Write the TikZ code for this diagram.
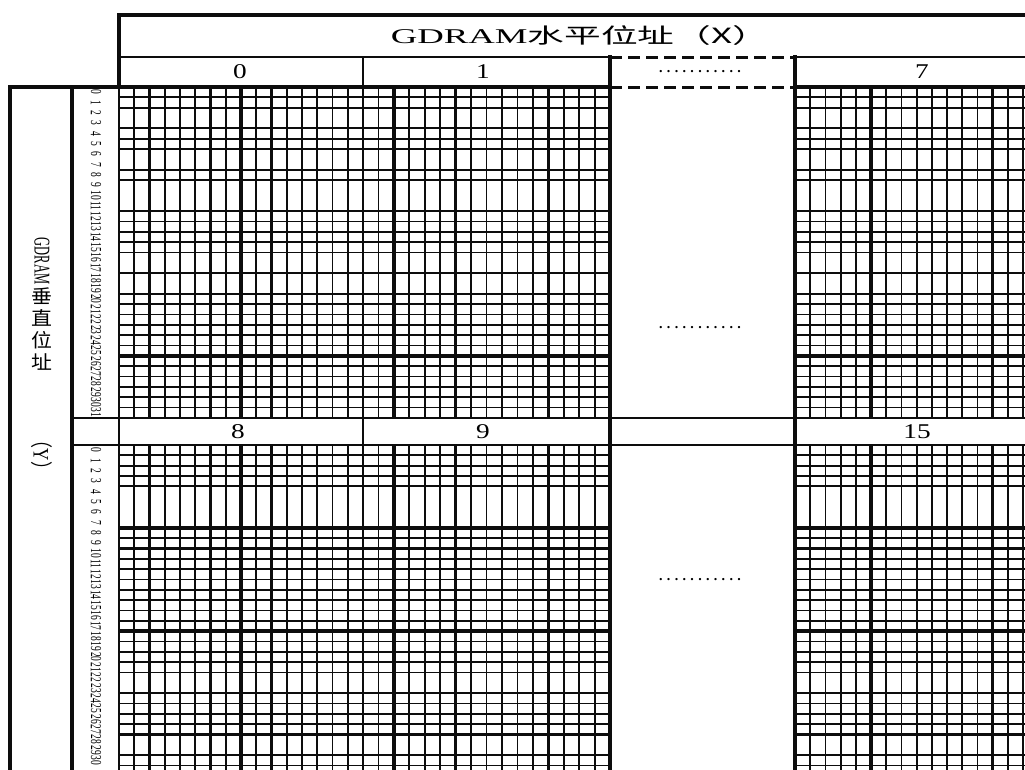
\documentclass[tikz,border=0pt]{standalone}
\usepackage{xcolor}
\usepackage{fontspec}
\setmainfont{Liberation Serif}
\newfontfamily\cjkfont{Noto Sans CJK SC}
\usepackage{tikz}
\usetikzlibrary{positioning}
\definecolor{gridink}{rgb}{0.05, 0.05, 0.05}

\begin{document}
\begin{tikzpicture}[x=1pt,y=-1pt]
\tikzset{gridline/.style={draw=gridink, line width=1.8pt},
boldline/.style={draw=gridink, line width=3.6pt},
ruleline/.style={draw=gridink, line width=2.2pt},
gapline/.style={draw=gridink, line width=3pt, dash pattern=on 12pt off 6pt},
colhead/.style={inner sep=0pt, xscale=1.3, font=\fontsize{21}{21}\selectfont},
rowlabel/.style={inner sep=0pt, xscale=1.6, rotate=-90, font=\fontsize{9.5}{9.5}\selectfont},
gapdots/.style={inner sep=0pt, font=\bfseries\fontsize{14}{14}\selectfont}}
\useasboundingbox[fill=white] (0,0) rectangle (1025,769);
\def\rowh{10.34}

\foreach \bx/\bw in {119/15.25, 363/15.44, 795/15.2} {
\foreach \r in {1,2,4,5,6,8,9,12,13,14,15,16,18,20,21,22,23,24,25,26,27,28,29,30,31}
\draw[gridline] (\bx,87+\r*\rowh) -- ++(16*\bw,0);
\foreach \r in {1,2,3,4,8,9,10,11,12,13,14,15,16,17,18,19,20,21,22,24,25,26,27,28,30,31}
\draw[gridline] (\bx,445+\r*\rowh) -- ++(16*\bw,0);
\foreach \c in {1,...,15}
\draw[gridline] (\bx+\c*\bw,87) -- ++(0,331) (\bx+\c*\bw,445) -- ++(0,331);
}

\foreach \lx in {149.5, 210.5, 241, 271.5, 393.9, 455.6, 548.3, 871, 992.6}
\draw[boldline] (\lx,87) -- (\lx,418) (\lx,445) -- (\lx,780);
\foreach \ly in {355.8, 527.7, 548.4, 631, 734.5} {
\draw[boldline] (119,\ly) -- (610,\ly);
\draw[boldline] (795,\ly) -- (1030,\ly);
}

\draw[boldline] (117.2,15) -- (1030,15);
\draw[boldline] (119,13.2) -- (119,87);
\draw[ruleline] (119,57) -- (610,57) (795,57) -- (1030,57);
\draw[gapline] (610,57) -- (795,57) (610,87) -- (795,87);
\draw[boldline] (8.2,87) -- (610,87) (795,87) -- (1030,87);
\draw[boldline] (10,87) -- (10,780);
\draw[boldline] (72,87) -- (72,780);
\draw[ruleline] (119,87) -- (119,780);
\draw[gridline] (363,57) -- (363,780);
\draw[boldline] (610,55.2) -- (610,780);
\draw[boldline] (795,55.2) -- (795,780);
\draw[ruleline] (72,418) -- (1030,418) (72,445) -- (1030,445);

\node (title) at (580,36) [inner sep=0pt, xscale=1.75, font=\fontsize{21}{21}\selectfont] {GDRAM{\cjkfont 水平位址（X）}};

\node (c0) at (240,72) [colhead] {0};
\node (c1) at (483,72) [colhead] {1};
\node (c7) at (922,72) [colhead] {7};
\node (c8) at (238,432) [colhead] {8};
\node (c9) at (483,432) [colhead] {9};
\node (c15) at (917,432) [colhead] {15};

\node (dotshead) at (700,72) [gapdots] {\makebox[86pt]{\xleaders\hbox to 7.8pt{\hss.\hss}\hfill}};
\node (dotstop) at (700,328) [gapdots] {\makebox[86pt]{\xleaders\hbox to 7.8pt{\hss.\hss}\hfill}};
\node (dotsbot) at (700,580) [gapdots] {\makebox[86pt]{\xleaders\hbox to 7.8pt{\hss.\hss}\hfill}};

\foreach \r in {0,...,31}
\node (ytop\r) at (96,87+\r*\rowh+0.5*\rowh) [rowlabel] {\r};
\foreach \r in {0,...,30}
\node (ybot\r) at (96,445+\r*\rowh+0.5*\rowh) [rowlabel] {\r};

\node (ylatin) at (42,261) [inner sep=0pt, xscale=1.8, rotate=-90, font=\fontsize{12.5}{12.5}\selectfont] {GDRAM};
\node (ycjk) at (42,329) [inner sep=0pt, align=center, xscale=1.1, font=\cjkfont\fontsize{19}{22}\selectfont] {垂\\直\\位\\址};
\node (ypar) at (42,455) [inner sep=0pt, xscale=1.3, rotate=-90, font=\fontsize{17}{17}\selectfont] {{\cjkfont （}Y{\cjkfont ）}};

\end{tikzpicture}
\end{document}
